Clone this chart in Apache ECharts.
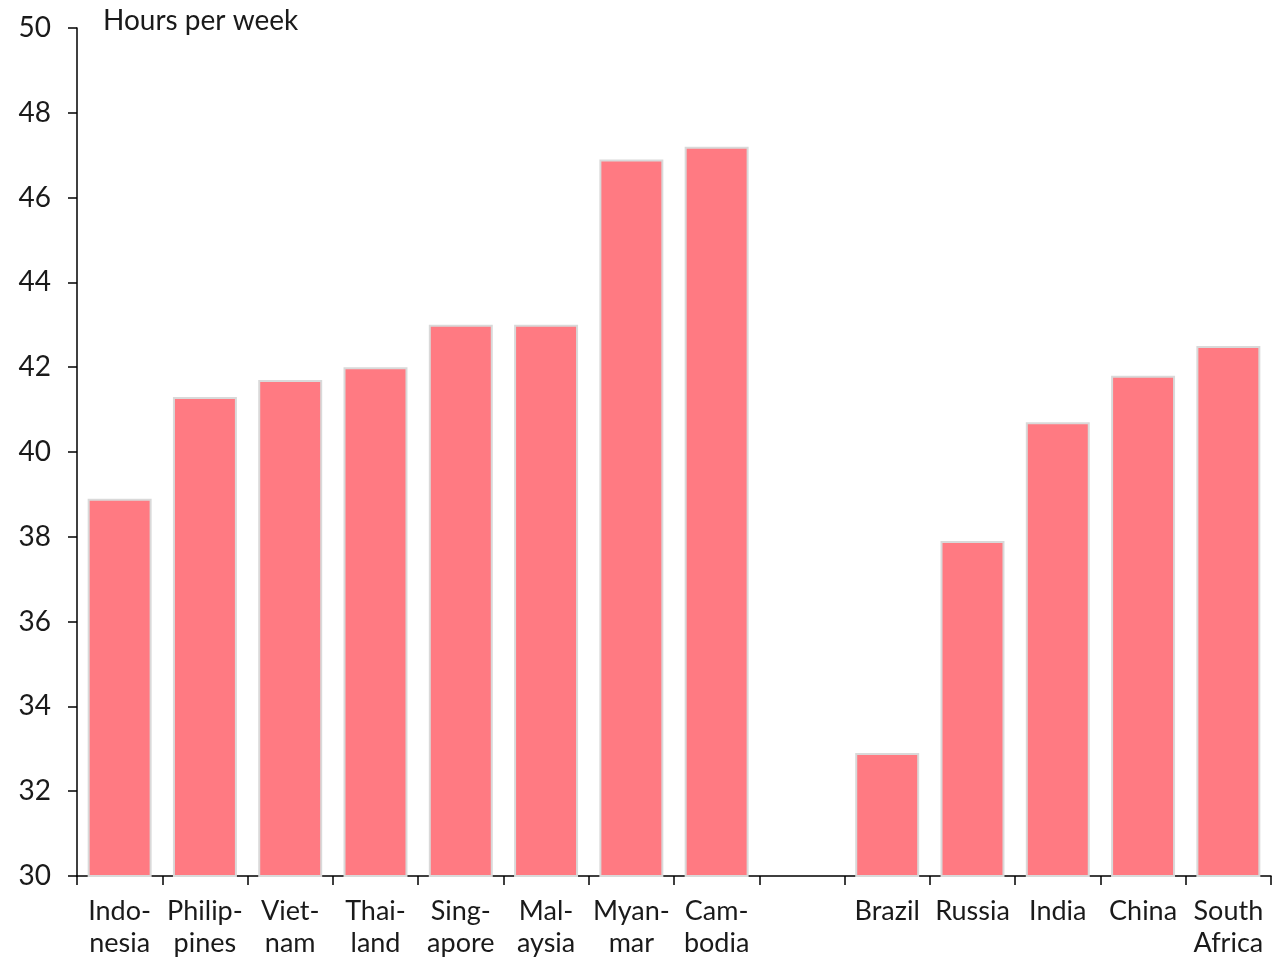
<!DOCTYPE html>
<html>
<head>
<meta charset="utf-8">
<script src="https://cdn.jsdelivr.net/npm/echarts@6/dist/echarts.min.js"></script>
<style>html,body{margin:0;padding:0;background:#fff;}#c{width:1272px;height:959px;}</style>
</head>
<body>
<div id="c"></div>
<script>
const categories = ["Indo-\nnesia","Philip-\npines","Viet-\nnam","Thai-\nland","Sing-\napore","Mal-\naysia","Myan-\nmar","Cam-\nbodia","","Brazil","Russia","India","China","South\nAfrica"];
const hours = [38.9,41.3,41.7,42.0,43.0,43.0,46.9,47.2,null,32.9,37.9,40.7,41.8,42.5];
const yTicks = {min:30, max:50, interval:2};
const unitLabel = "Hours per week";
const FONT = "Lato, 'DejaVu Sans', sans-serif";
const chart = echarts.init(document.getElementById('c'));
chart.setOption({
  animation:false,
  backgroundColor:'#fff',
  grid:{left:77, right:1, top:28, bottom:80, containLabel:false},
  graphic:[{type:'text', left:103, top:7, style:{text:unitLabel, font:'28px '+FONT, fill:'#1a1a1a'}}],
  xAxis:{type:'category', data:categories, boundaryGap:true,
    axisLine:{lineStyle:{color:'#000', width:1.5}},
    axisTick:{show:true, length:9, alignWithLabel:false, lineStyle:{color:'#000', width:1.5}},
    axisLabel:{interval:0, color:'#1a1a1a', fontSize:27, fontFamily:FONT, lineHeight:32, margin:19}},
  yAxis:{type:'value', min:yTicks.min, max:yTicks.max, interval:yTicks.interval,
    splitLine:{show:false},
    axisLine:{show:true, lineStyle:{color:'#000', width:1.5}},
    axisTick:{show:true, length:9, lineStyle:{color:'#000', width:1.5}},
    axisLabel:{color:'#1a1a1a', fontSize:28, fontFamily:FONT, margin:26}},
  series:[{type:'bar', data:hours, barWidth:'75%',
    itemStyle:{color:'#ff7a82', borderColor:'#d9d9d9', borderWidth:2}}]
});
</script>
</body>
</html>
